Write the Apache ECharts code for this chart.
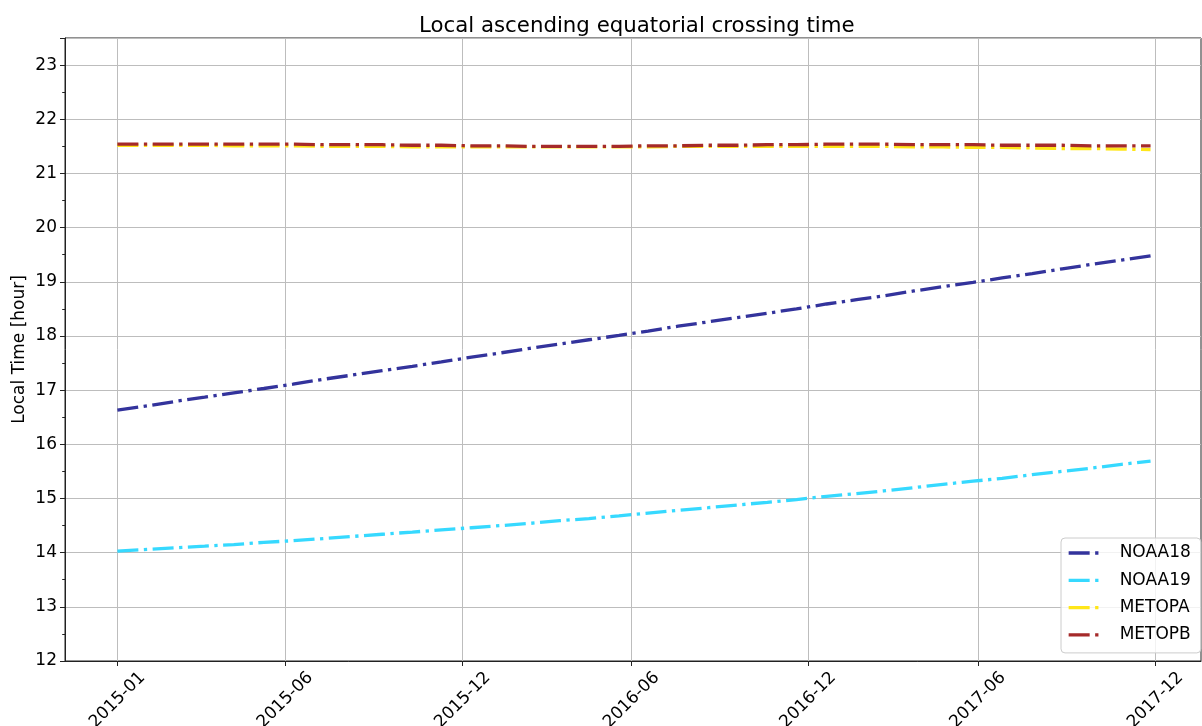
<!DOCTYPE html>
<html>
<head>
<meta charset="utf-8">
<script src="https://cdn.jsdelivr.net/npm/echarts@6/dist/echarts.min.js"></script>
<style>
  html, body { margin: 0; padding: 0; background: #fff; }
  #chart { width: 1202px; height: 726px; }
</style>
</head>
<body>
<div id="chart"></div>
<script>
// Monthly sample dates (first of each month)
const months = [
  '2015-01-01','2015-02-01','2015-03-01','2015-04-01','2015-05-01','2015-06-01',
  '2015-07-01','2015-08-01','2015-09-01','2015-10-01','2015-11-01','2015-12-01',
  '2016-01-01','2016-02-01','2016-03-01','2016-04-01','2016-05-01','2016-06-01',
  '2016-07-01','2016-08-01','2016-09-01','2016-10-01','2016-11-01','2016-12-01',
  '2017-01-01','2017-02-01','2017-03-01','2017-04-01','2017-05-01','2017-06-01',
  '2017-07-01','2017-08-01','2017-09-01','2017-10-01','2017-11-01','2017-12-01'
];

// Local ascending equatorial crossing time [hour] per satellite
const noaa18 = [
  16.63, 16.71, 16.79, 16.87, 16.95, 17.03, 17.11, 17.20, 17.28, 17.36, 17.44, 17.52,
  17.61, 17.69, 17.77, 17.85, 17.93, 18.01, 18.09, 18.18, 18.26, 18.34, 18.42, 18.50,
  18.59, 18.67, 18.74, 18.83, 18.91, 18.99, 19.07, 19.15, 19.24, 19.32, 19.40, 19.48
];
const noaa19 = [
  14.03, 14.06, 14.09, 14.12, 14.15, 14.19, 14.22, 14.26, 14.30, 14.34, 14.38, 14.42,
  14.46, 14.50, 14.54, 14.59, 14.63, 14.68, 14.73, 14.78, 14.83, 14.88, 14.93, 14.98,
  15.04, 15.09, 15.14, 15.20, 15.26, 15.32, 15.37, 15.44, 15.50, 15.56, 15.63, 15.69
];
const metopa = [
  21.52, 21.52, 21.52, 21.52, 21.51, 21.51, 21.51, 21.50, 21.50, 21.50, 21.49, 21.49,
  21.49, 21.49, 21.49, 21.49, 21.49, 21.49, 21.49, 21.50, 21.50, 21.50, 21.50, 21.50,
  21.50, 21.50, 21.50, 21.49, 21.49, 21.48, 21.48, 21.47, 21.46, 21.46, 21.45, 21.44
];
const metopb = [
  21.54, 21.54, 21.54, 21.54, 21.54, 21.54, 21.54, 21.53, 21.53, 21.53, 21.52, 21.52,
  21.51, 21.51, 21.50, 21.50, 21.50, 21.50, 21.51, 21.51, 21.52, 21.52, 21.53, 21.53,
  21.54, 21.54, 21.54, 21.53, 21.53, 21.53, 21.52, 21.52, 21.52, 21.51, 21.51, 21.51
];

// x-axis tick positions and their labels
const xTickDates  = ['2015-01-01','2015-06-23','2015-12-23','2016-06-14','2016-12-13','2017-06-06','2017-12-06'];
const xTickLabels = ['2015-01','2015-06','2015-12','2016-06','2016-12','2017-06','2017-12'];
const xRange = ['2014-11-08', '2018-01-22'];

// y-axis
const yMin = 12, yMax = 23.5;

const seriesNames  = ['NOAA18', 'NOAA19', 'METOPA', 'METOPB'];
const seriesValues = [noaa18, noaa19, metopa, metopb];
const seriesColors = ['#33339c', '#36d9ff', '#ffe619', '#a52a2a'];

const FONT = 'DejaVu Sans';
const LINE_W = 3.3;
const DASH_DOT = [21, 5.5, 3.3, 5.5];
const ts = s => Date.parse(s + 'T00:00:00Z');
const xTickTs = xTickDates.map(ts);

const series = seriesNames.map((name, i) => ({
  name,
  type: 'line',
  symbol: 'none',
  showSymbol: false,
  data: months.map((m, j) => [ts(m), seriesValues[i][j]]),
  lineStyle: { color: seriesColors[i], width: LINE_W, type: DASH_DOT, cap: 'butt' },
  itemStyle: { color: seriesColors[i] },
  z: 3 + i
}));

const chart = echarts.init(document.getElementById('chart'), null, { renderer: 'canvas' });
chart.setOption({
  animation: false,
  backgroundColor: '#fff',
  textStyle: { fontFamily: FONT },
  title: {
    text: 'Local ascending equatorial crossing time',
    left: 414,
    top: 11,
    textStyle: { fontFamily: FONT, fontSize: 21.3, fontWeight: 'normal', color: '#000' }
  },
  grid: {
    left: 65, right: 1, top: 38, bottom: 65,
    outerBoundsMode: 'none',
    containLabel: false,
    show: true, borderColor: '#222', borderWidth: 1, backgroundColor: 'transparent'
  },
  legend: {
    orient: 'vertical',
    left: 1061,
    top: 538,
    padding: [6.5, 10, 9.5, 6],
    itemWidth: 34,
    itemHeight: 17,
    itemGap: 10.3,
    itemStyle: { opacity: 0 },
    lineStyle: { width: LINE_W, type: DASH_DOT, cap: 'butt' },
    backgroundColor: 'rgba(255,255,255,0.8)',
    borderColor: '#cccccc',
    borderWidth: 1,
    borderRadius: 4,
    textStyle: { fontFamily: FONT, fontSize: 17, color: '#000', lineHeight: 17, padding: [0, 0, 0, 12] },
    data: seriesNames
  },
  xAxis: {
    type: 'value',
    min: ts(xRange[0]),
    max: ts(xRange[1]),
    axisLine: { show: true, lineStyle: { color: '#222', width: 1 } },
    axisTick: { show: true, inside: false, length: 5, customValues: xTickTs, lineStyle: { color: '#222', width: 1 } },
    axisLabel: {
      customValues: xTickTs,
      rotate: 45,
      align: 'center',
      verticalAlign: 'middle',
      margin: 39,
      fontFamily: FONT,
      fontSize: 17,
      color: '#000',
      formatter: v => {
        const k = xTickTs.indexOf(v);
        return k >= 0 ? xTickLabels[k] : '';
      }
    },
    splitLine: { show: true, lineStyle: { color: '#bdbdbd', width: 1 } }
  },
  yAxis: [
    {
      type: 'value',
      min: yMin,
      max: yMax,
      interval: 1,
      name: 'Local Time [hour]',
      nameLocation: 'middle',
      nameGap: 37,
      nameMoveOverlap: false,
      nameRotate: 90,
      nameTextStyle: { fontFamily: FONT, fontSize: 17, color: '#000' },
      axisLine: { show: true, lineStyle: { color: '#222', width: 1 } },
      axisTick: { show: true, inside: false, length: 5, lineStyle: { color: '#222', width: 1 } },
      axisLabel: {
        margin: 8,
        fontFamily: FONT,
        fontSize: 17,
        color: '#000',
        formatter: v => (Number.isInteger(v) ? String(v) : '')
      },
      splitLine: { show: true, lineStyle: { color: '#bdbdbd', width: 1 } }
    },
    {
      // half-hour minor ticks
      type: 'value',
      min: yMin,
      max: yMax,
      interval: 0.5,
      position: 'left',
      axisLine: { show: false },
      axisTick: { show: true, inside: false, length: 2.8, lineStyle: { color: '#222', width: 1 } },
      axisLabel: { show: false },
      splitLine: { show: false }
    }
  ],
  series
});
</script>
</body>
</html>
